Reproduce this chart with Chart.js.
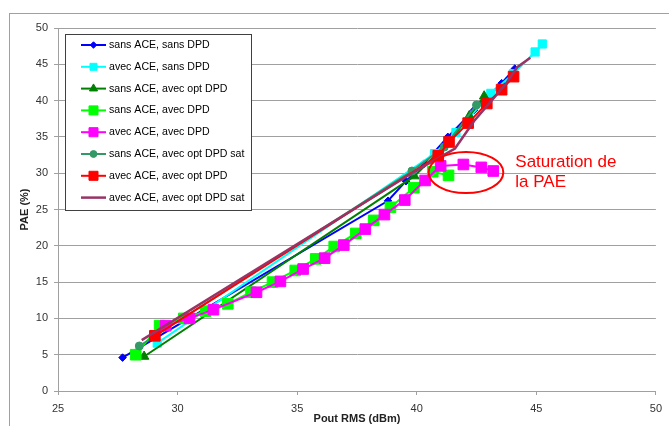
<!DOCTYPE html>
<html>
<head>
<meta charset="utf-8">
<script src="https://cdn.jsdelivr.net/npm/chart.js@4.4.1/dist/chart.umd.min.js"></script>
<style>
html, body { margin: 0; padding: 0; background: #fff; }
</style>
</head>
<body>
<canvas id="myChart" width="669" height="426"></canvas>
<script>
// Pout RMS (dBm), PAE (%)
const sansAceSansDpd = [[27.7,4.6],[38.8,26.2],[39.55,28.9],[40.3,31.3],[41.3,35.0],[42.4,38.7],[43.55,42.4],[44.1,44.4]];
const avecAceSansDpd = [[29.15,6.6],[40.75,32.7],[41.64,35.6],[43.1,41.0],[44.04,43.7],[44.95,46.7],[45.25,47.8]];
const sansAceAvecOptDpd = [[28.6,4.75],[39.9,29.6],[41.3,34.2],[42.2,37.9],[42.82,40.6]];
const sansAceAvecDpd = [[28.25,5.0],[29.25,9.0],[30.26,10.0],[31.17,11.0],[32.1,12.0],[33.07,13.6],[33.97,15.0],[34.92,16.6],[35.78,18.2],[36.55,19.9],[37.45,21.7],[38.2,23.5],[38.9,25.3],[39.88,28.0],[40.67,30.2],[41.33,29.7]];
const avecAceAvecDpd = [[29.5,9.0],[30.5,10.0],[31.5,11.2],[33.3,13.6],[34.3,15.1],[35.25,16.8],[36.15,18.3],[36.95,20.1],[37.85,22.3],[38.65,24.3],[39.5,26.3],[40.35,29.0],[41.0,31.0],[41.95,31.2],[42.7,30.8],[43.2,30.3]];
const sansAceAvecOptDpdSat = [[28.4,6.2],[39.8,30.3],[41.15,33.6],[42.5,39.4]];
const avecAceAvecOptDpd = [[29.05,7.6],[40.9,32.4],[41.35,34.3],[42.15,36.9],[42.93,39.6],[43.55,41.5],[44.05,43.3]];
const avecAceAvecOptDpdSat = [[28.5,7.0],[40.0,30.4],[41.6,33.4],[42.4,37.2],[43.1,39.9],[43.7,42.2],[44.2,44.6],[44.75,45.9]];

const seriesNames = ['sans ACE, sans DPD', 'avec ACE, sans DPD', 'sans ACE, avec opt DPD', 'sans ACE, avec DPD',
  'avec ACE, avec DPD', 'sans ACE, avec opt DPD sat', 'avec ACE, avec opt DPD', 'avec ACE, avec opt DPD sat'];
const seriesData = [sansAceSansDpd, avecAceSansDpd, sansAceAvecOptDpd, sansAceAvecDpd,
  avecAceAvecDpd, sansAceAvecOptDpdSat, avecAceAvecOptDpd, avecAceAvecOptDpdSat];

const xTickValues = [25, 30, 35, 40, 45, 50];
const yTickValues = [0, 5, 10, 15, 20, 25, 30, 35, 40, 45, 50];

// styles per series
const seriesColors = ['#0000ff', '#00ffff', '#008000', '#00ff00', '#ff00ff', '#339966', '#ff0000', '#993366'];
const seriesMarkers = ['rectRot', 'rect', 'triangle', 'rect', 'rect', 'circle', 'rect', false];
const seriesRadius = [3.8, 5.8, 5.5, 7.5, 7.5, 4, 7.5, 0];

// annotation: ellipse around the saturated points
const satCenter = [42.06, 30.1];
const satRadius = [1.56, 2.83];
const satText = ['Saturation de', 'la PAE'];

const tickFont = {family: '"Liberation Sans", Arial, sans-serif', size: 11};
const titleFont = {family: '"Liberation Sans", Arial, sans-serif', size: 11, weight: 'bold'};

const datasets = seriesData.map(function(points, i) {
  return {
    label: seriesNames[i],
    data: points.map(function(p) { return {x: p[0], y: p[1]}; }),
    showLine: true,
    borderColor: seriesColors[i],
    backgroundColor: seriesColors[i],
    borderWidth: i === 7 ? 2.5 : 2,
    pointStyle: seriesMarkers[i],
    pointRadius: seriesRadius[i],
    pointBorderWidth: 1,
    pointBorderColor: seriesColors[i],
    pointBackgroundColor: seriesColors[i],
    order: seriesData.length - 1 - i
  };
});

const framePlugin = {
  id: 'frame',
  beforeDraw: function(chart) {
    const ctx = chart.ctx;
    ctx.save();
    ctx.fillStyle = '#fff';
    ctx.fillRect(0, 0, chart.width, chart.height);
    ctx.strokeStyle = '#a0a0a0';
    ctx.lineWidth = 1;
    ctx.strokeRect(9.5, 13.5, chart.width + 20, chart.height + 20);
    ctx.restore();
  }
};

const legendPlugin = {
  id: 'boxLegend',
  afterDraw: function(chart) {
    const ctx = chart.ctx;
    const box = {left: 65, top: 34, right: 251, bottom: 210};
    ctx.save();
    ctx.fillStyle = '#fff';
    ctx.fillRect(box.left, box.top, box.right - box.left, box.bottom - box.top);
    ctx.strokeStyle = '#404040';
    ctx.lineWidth = 1;
    ctx.strokeRect(box.left + 0.5, box.top + 0.5, box.right - box.left, box.bottom - box.top);
    ctx.font = '10.6px "Liberation Sans", Arial, sans-serif';
    ctx.textBaseline = 'middle';
    chart.data.datasets.forEach(function(ds, i) {
      const y = 45 + i * 21.8;
      ctx.strokeStyle = ds.borderColor;
      ctx.lineWidth = ds.borderWidth;
      ctx.beginPath();
      ctx.moveTo(81, y);
      ctx.lineTo(106, y);
      ctx.stroke();
      if (ds.pointStyle) {
        ctx.fillStyle = ds.pointBackgroundColor;
        ctx.strokeStyle = ds.pointBorderColor;
        ctx.lineWidth = 1;
        Chart.helpers.drawPoint(ctx, {pointStyle: ds.pointStyle, radius: ds.pointRadius * 0.85, rotation: 0, borderWidth: 1}, 93.5, y);
      }
      ctx.fillStyle = '#000';
      ctx.fillText(ds.label, 109, y);
    });
    ctx.restore();
  }
};

const annotationPlugin = {
  id: 'saturation',
  afterDatasetsDraw: function(chart) {
    const ctx = chart.ctx;
    const xs = chart.scales.x, ys = chart.scales.y;
    const cx = xs.getPixelForValue(satCenter[0]);
    const cy = ys.getPixelForValue(satCenter[1]);
    const rx = xs.getPixelForValue(satCenter[0] + satRadius[0]) - cx;
    const ry = cy - ys.getPixelForValue(satCenter[1] + satRadius[1]);
    ctx.save();
    ctx.strokeStyle = '#ff0000';
    ctx.lineWidth = 2;
    ctx.beginPath();
    ctx.ellipse(cx, cy, rx, ry, 0, 0, Math.PI * 2);
    ctx.stroke();
    ctx.fillStyle = '#ff0000';
    ctx.font = '17px "Liberation Sans", Arial, sans-serif';
    ctx.textBaseline = 'alphabetic';
    ctx.fillText(satText[0], cx + rx + 12, cy - 5);
    ctx.fillText(satText[1], cx + rx + 12, cy + 15);
    ctx.restore();
  }
};

var myChart = new Chart(document.getElementById('myChart'), {
  type: 'scatter',
  data: {datasets: datasets},
  options: {
    responsive: false,
    animation: false,
    devicePixelRatio: 1,
    layout: {padding: {left: 0, top: 28, right: 12, bottom: 0}},
    plugins: {legend: {display: false}, tooltip: {enabled: false}},
    scales: {
      x: {
        type: 'linear',
        min: 25, max: 50,
        afterBuildTicks: function(scale) { scale.ticks = xTickValues.map(function(v) { return {value: v}; }); },
        afterFit: function(scale) { scale.height = 35; },
        grid: {drawOnChartArea: false, tickLength: 4, color: '#a0a0a0'},
        border: {color: '#a0a0a0'},
        ticks: {font: tickFont, color: '#333', padding: 7, maxRotation: 0},
        title: {display: true, text: 'Pout RMS (dBm)', font: titleFont, color: '#222', padding: {top: 0, bottom: 0}}
      },
      y: {
        type: 'linear',
        min: 0, max: 50,
        afterBuildTicks: function(scale) { scale.ticks = yTickValues.map(function(v) { return {value: v}; }); },
        afterFit: function(scale) { scale.width = 58; },
        grid: {tickLength: 4, color: '#a0a0a0'},
        border: {color: '#a0a0a0'},
        ticks: {font: tickFont, color: '#333', padding: 6},
        title: {display: true, text: 'PAE (%)', font: titleFont, color: '#222', padding: {top: 18, bottom: 0}}
      }
    }
  },
  plugins: [framePlugin, legendPlugin, annotationPlugin]
});
</script>
</body>
</html>
